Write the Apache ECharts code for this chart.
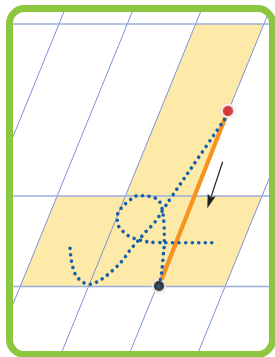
<!DOCTYPE html>
<html>
<head>
<meta charset="utf-8">
<script src="https://cdn.jsdelivr.net/npm/echarts@6/dist/echarts.min.js"></script>
<style>
html, body { margin: 0; padding: 0; background: #fff; }
#chartDiv { width: 275px; height: 357px; }
</style>
</head>
<body>
<div id="chartDiv"></div>
<script>
// guide rows (y) and slanted guide lines (x where they cross the top row)
var guideRows = [24, 196, 286.5];
var slantTops = [59, 127.3, 195.6, 263.9, 332.2];
var slant = 0.408;
var upperBand = [2, 3];   // slant line indices bounding the yellow band, top row -> mid row
var lowerBand = [1, 4];   // mid row -> base row
var frameBox = [9.5, 8.5, 272.5, 354.5];

// the stroke being taught, and its direction arrow
var strokeStart = [228, 111];
var strokeEnd = [159, 286];
var arrowFrom = [222.7, 161.7];
var arrowTo = [207.3, 208.3];

// dotted letter trace
var traceLong = [[224.5, 119.5], [197.5, 159], [171, 197.7], [164, 208.3], [155, 222], [146, 231.5],
    [137, 242], [129.3, 251], [122, 261], [112.3, 270.7], [102, 279], [96, 282.3], [90.7, 284.3],
    [85, 283.3], [80, 280], [75.7, 275], [73.3, 268.7], [71.7, 262.3], [70.7, 255.7], [70, 249.3], [70.7, 242.3]];
var traceLoop = [[159, 286], [161, 277], [162.3, 266], [163.3, 255], [164.2, 245], [164.3, 235], [164, 225],
    [163, 214], [161, 205], [158.3, 200], [153.3, 197.3], [147.3, 196], [141, 195.7], [135, 196.2],
    [129.3, 200.7], [124, 205], [120, 210], [117.3, 216], [117.3, 221.7], [119.3, 227.3], [123.3, 231.7],
    [128.3, 235.7], [134, 238.3], [139.3, 240], [146, 241.5], [155, 242.5], [170, 242.7], [213, 242.7]];

var xMin = 13, xMax = 269, yMin = 12, yMax = 351;

function slantX(i, y) {
    return slantTops[i] - slant * (y - guideRows[0]);
}

function bandPoints(band, y0, y1) {
    return [[slantX(band[0], y0), y0], [slantX(band[1], y0), y0],
            [slantX(band[1], y1), y1], [slantX(band[0], y1), y1]];
}

var bands = [bandPoints(upperBand, guideRows[0], guideRows[1]),
             bandPoints(lowerBand, guideRows[1], guideRows[2])];

var myChart = echarts.init(document.getElementById('chartDiv'));

var series = [];

series.push({
    type: 'custom',
    z: 1,
    silent: true,
    data: [[xMin, yMin]],
    renderItem: function (params, api) {
        return {
            type: 'group',
            children: bands.map(function (pts) {
                return {
                    type: 'polygon',
                    shape: {points: pts.map(function (p) { return api.coord(p); })},
                    style: {fill: '#fdeaa8'}
                };
            })
        };
    }
});

for (var i = 0; i < slantTops.length; i++) {
    series.push({
        type: 'line',
        z: 2,
        silent: true,
        showSymbol: false,
        data: [[slantX(i, yMin), yMin], [slantX(i, yMax), yMax]],
        lineStyle: {color: '#7e92d7', width: 1}
    });
}

for (var j = 0; j < guideRows.length; j++) {
    series.push({
        type: 'line',
        z: 2,
        silent: true,
        showSymbol: false,
        data: [[xMin, guideRows[j]], [xMax, guideRows[j]]],
        lineStyle: {color: '#9cade0', width: 1.6}
    });
}

series.push({
    type: 'line',
    z: 3,
    silent: true,
    showSymbol: false,
    data: [strokeStart, strokeEnd],
    lineStyle: {color: '#f7931e', width: 4.2}
});

series.push({
    type: 'custom',
    z: 3,
    silent: true,
    data: [[xMin, yMin]],
    renderItem: function (params, api) {
        var a = api.coord(arrowFrom), b = api.coord(arrowTo);
        var dx = b[0] - a[0], dy = b[1] - a[1];
        var len = Math.sqrt(dx * dx + dy * dy);
        var ux = dx / len, uy = dy / len;
        var headLen = 14, headW = 4.2;
        var bx = b[0] - ux * headLen, by = b[1] - uy * headLen;
        var nx = b[0] - ux * headLen * 0.82, ny = b[1] - uy * headLen * 0.82;
        return {
            type: 'group',
            children: [{
                type: 'line',
                shape: {x1: a[0], y1: a[1], x2: nx, y2: ny},
                style: {stroke: '#231f20', lineWidth: 1.2}
            }, {
                type: 'polygon',
                shape: {points: [b, [bx - uy * headW, by + ux * headW], [nx, ny], [bx + uy * headW, by - ux * headW]]},
                style: {fill: '#231f20'}
            }]
        };
    }
});

series.push({
    type: 'scatter',
    z: 4,
    silent: true,
    symbolSize: 12.5,
    data: [
        {value: strokeStart, itemStyle: {color: '#d6202a'}},
        {value: strokeEnd, itemStyle: {color: '#1e1e1e'}}
    ],
    itemStyle: {borderColor: '#fff', borderWidth: 2.5, shadowBlur: 1.5, shadowColor: 'rgba(0,0,0,0.2)'}
});

[traceLong, traceLoop].forEach(function (trace) {
    series.push({
        type: 'line',
        z: 5,
        silent: true,
        showSymbol: false,
        smooth: 0.4,
        data: trace,
        lineStyle: {color: '#155fab', width: 3.6, type: [0.01, 6.5], cap: 'round'}
    });
});

series.push({
    type: 'custom',
    z: 6,
    silent: true,
    data: [[xMin, yMin]],
    renderItem: function (params, api) {
        var p0 = api.coord([frameBox[0], frameBox[1]]);
        var p1 = api.coord([frameBox[2], frameBox[3]]);
        return {
            type: 'rect',
            shape: {x: p0[0], y: p0[1], width: p1[0] - p0[0], height: p1[1] - p0[1], r: 15},
            style: {fill: 'none', stroke: '#8dc63f', lineWidth: 7}
        };
    }
});

myChart.setOption({
    backgroundColor: '#fff',
    animation: false,
    grid: {left: xMin, top: yMin, width: xMax - xMin, height: yMax - yMin},
    xAxis: {type: 'value', min: xMin, max: xMax, show: false},
    yAxis: {type: 'value', min: yMin, max: yMax, inverse: true, show: false},
    series: series
});
window.onresize = myChart.resize;
</script>
</body>
</html>
